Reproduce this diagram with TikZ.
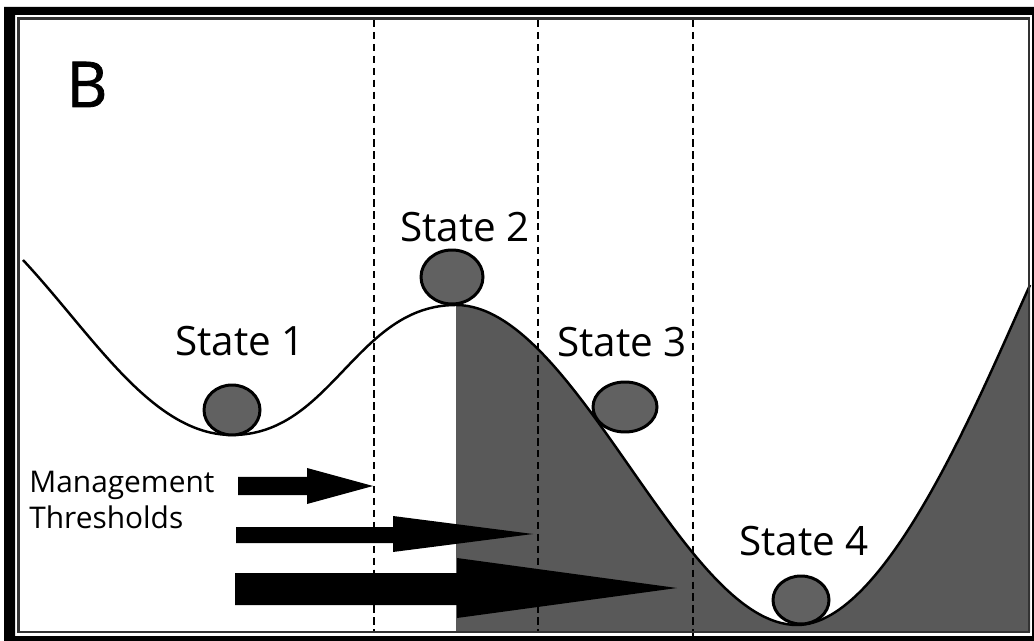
\documentclass[tikz,border=0pt]{standalone}
\usepackage{fontspec}
\setmainfont{Open Sans}
\begin{document}
\begin{tikzpicture}[x=0.02cm,y=-0.02cm,
  shade/.style={fill=black!65},
  ball/.style={draw=black,line width=1.7pt,fill=black!62},
  landscape/.style={draw=black,line width=1.4pt},
  threshold/.style={draw=black,line width=1.35pt,dash pattern=on 4.2pt off 2.6pt},
  statelabel/.style={anchor=base,inner sep=0pt,font=\fontsize{23}{27}\selectfont},
  blockarrow/.style={fill=black}]
\useasboundingbox (0,0) rectangle (1034,641);
\fill[white] (0,0) rectangle (1034,641);

% basin of the degraded state, right of the peak
\fill[shade] (456,305) .. controls (576,305) and (682,625) .. (797,625)
  .. controls (887,625) and (980,395) .. (1030,285)
  -- (1030,632) -- (456,632) -- cycle;

% stability landscape
\draw[landscape] (23,260) .. controls (93,335) and (152,435) .. (232,435)
  .. controls (332,435) and (356,305) .. (456,305)
  .. controls (576,305) and (682,625) .. (797,625)
  .. controls (887,625) and (980,395) .. (1030,285);

% management threshold arrows
\fill[blockarrow] (238,477) -- (307,477) -- (307,468) -- (373,486) -- (307,504) -- (307,495) -- (238,495) -- cycle;
\fill[blockarrow] (236,527) -- (393,527) -- (393,516) -- (533,534) -- (393,552) -- (393,543) -- (236,543) -- cycle;
\fill[blockarrow] (235,573) -- (457,573) -- (457,558) -- (677,588) -- (457,618) -- (457,605) -- (235,605) -- cycle;

% thresholds
\draw[threshold] (374,20) -- (374,631);
\draw[threshold] (538,20) -- (538,631);
\draw[threshold] (693,20) -- (693,631);
\draw[black,line width=1.1pt] (693,631) -- (693,641);

% balls
\draw[ball] (232,410) ellipse [x radius=28,y radius=25];
\draw[ball] (452,277) ellipse [x radius=31,y radius=27];
\draw[ball] (625,407) ellipse [x radius=32,y radius=25];
\draw[ball] (801,600) ellipse [x radius=28,y radius=24];

% labels
\node[statelabel] (s1) at (240,356) {State 1};
\node[statelabel] (s2) at (465,242) {State 2};
\node[statelabel] (s3) at (622,357) {State 3};
\node[statelabel] (s4) at (804,555) {State 4};
\node[anchor=base,inner sep=0pt,font=\fontsize{36}{40}\selectfont\addfontfeature{FakeBold=1.2}] (panel) at (87,107) {B};
\node[anchor=base west,inner sep=0pt,font=\fontsize{17}{20}\selectfont] (mt1) at (29,493) {Management};
\node[anchor=base west,inner sep=0pt,font=\fontsize{17}{20}\selectfont] (mt2) at (29,528) {Thresholds};

% frame
\draw[black!80,line width=1.4pt] (18.5,18.5) rectangle (1029,632);
\fill[black,even odd rule] (4,7) rectangle (1045,650) (15,15) rectangle (1032,636);
\end{tikzpicture}
\end{document}
